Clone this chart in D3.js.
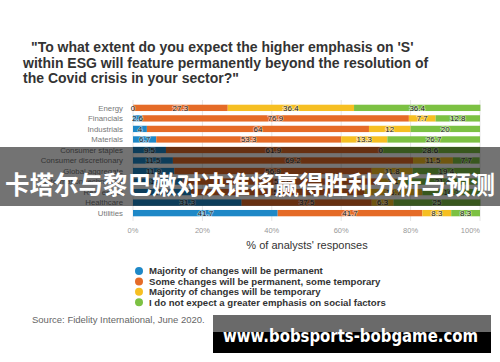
<!DOCTYPE html>
<html>
<head>
<meta charset="utf-8">
<script src="https://cdn.jsdelivr.net/npm/d3@7"></script>
<style>
  body { margin: 0; background: #fff; }
  svg { display: block; font-family: "Liberation Sans", Arial, sans-serif; }
</style>
</head>
<body>
<svg id="chart" width="500" height="362"></svg>
<script>
// sectors, top to bottom
const sectors = ["Energy", "Financials", "Industrials", "Materials", "Consumer staples",
  "Consumer discretionary", "Global aggregate", "Information technology", "Real estate",
  "Healthcare", "Utilities"];

// % of analysts per answer
const permanent = [0, 2.6, 4, 6.7, 9.5, 11.5, 11.9, 14.3, 16.7, 31.3, 41.7];
const someChanges = [27.3, 76.9, 64, 53.3, 61.9, 69.2, 56.9, 57.1, 50, 37.5, 41.7];
const temporary = [36.4, 7.7, 12, 13.3, 0, 11.5, 11.8, 7.1, 16.7, 6.3, 8.3];
const noEmphasis = [36.4, 12.8, 20, 26.7, 28.6, 7.7, 19.4, 21.4, 16.7, 25, 8.3];

const answers = ["Majority of changes will be permanent",
  "Some changes will be permanent, some temporary",
  "Majority of changes will be temporary",
  "I do not expect a greater emphasis on social factors"];
const colors = ["#1e88c7", "#e56b27", "#f6bf22", "#7cc143"];
const ticks = [0, 20, 40, 60, 80, 100];

const svg = d3.select("#chart");

// title
const title = ["\"To what extent do you expect the higher emphasis on 'S'",
  "within ESG will feature permanently beyond the resolution of",
  "the Covid crisis in your sector?\""];
svg.append("g").selectAll("text").data(title).join("text")
  .attr("x", (d, i) => i == 0 ? 31 : 23)
  .attr("y", (d, i) => 52 + i * 15.5)
  .attr("font-size", 14).attr("font-weight", "bold").attr("fill", "#333")
  .text(d => d);

const x = d3.scaleLinear().domain([0, 100]).range([133, 480]);
const y = d3.scaleBand().domain(sectors).range([100.5, 220.5]).padding(0.4);

// gridlines
svg.append("g").selectAll("line").data(ticks).join("line")
  .attr("x1", d => x(d)).attr("x2", d => x(d))
  .attr("y1", 100).attr("y2", 221)
  .attr("stroke", "#e6e6e6").attr("stroke-width", 1);

// stack the series
const rows = sectors.map((s, i) => ({ sector: s, a0: permanent[i], a1: someChanges[i], a2: temporary[i], a3: noEmphasis[i] }));
const series = d3.stack().keys(["a0", "a1", "a2", "a3"])(rows);

const groups = svg.append("g").selectAll("g").data(series).join("g")
  .attr("fill", (d, i) => colors[i]);

groups.selectAll("rect").data(d => d).join("rect")
  .attr("x", d => x(d[0]))
  .attr("y", d => y(d.data.sector))
  .attr("width", d => x(d[1]) - x(d[0]))
  .attr("height", y.bandwidth());

// value labels
const labels = svg.append("g");
series.forEach(s => {
  labels.selectAll(null).data(s).join("text")
    .attr("x", d => (x(d[0]) + x(d[1])) / 2)
    .attr("y", d => y(d.data.sector) + y.bandwidth() / 2)
    .attr("dy", "0.35em")
    .attr("text-anchor", "middle")
    .attr("font-size", 8)
    .attr("fill", "#222")
    .attr("stroke", "rgba(255,255,255,0.55)").attr("stroke-width", 1.6)
    .attr("paint-order", "stroke")
    .text(d => +(d[1] - d[0]).toFixed(1));
});

// sector names
svg.append("g").selectAll("text").data(sectors).join("text")
  .attr("x", 123)
  .attr("y", d => y(d) + y.bandwidth() / 2)
  .attr("dy", "0.35em")
  .attr("text-anchor", "end")
  .attr("font-size", 7.8).attr("fill", "#777")
  .text(d => d);

// x tick labels
svg.append("g").selectAll("text").data(ticks).join("text")
  .attr("x", d => x(d))
  .attr("y", 233)
  .attr("text-anchor", d => d == 100 ? "end" : "middle")
  .attr("font-size", 7.5).attr("fill", "#999")
  .text(d => d + "%");

svg.append("text")
  .attr("x", 307).attr("y", 249)
  .attr("text-anchor", "middle")
  .attr("font-size", 11).attr("fill", "#333")
  .text("% of analysts' responses");

// legend
const legend = svg.append("g").selectAll("g").data(answers).join("g")
  .attr("transform", (d, i) => `translate(139,${271 + i * 10.4})`);
legend.append("circle").attr("r", 4).attr("fill", (d, i) => colors[i]);
legend.append("text")
  .attr("x", 10).attr("dy", "0.35em")
  .attr("font-size", 9.6).attr("font-weight", "bold").attr("fill", "#333")
  .text(d => d);

svg.append("text")
  .attr("x", 32).attr("y", 323)
  .attr("font-size", 9.5).attr("fill", "#666")
  .text("Source: Fidelity International, June 2020.");

// overlay banners
svg.append("rect")
  .attr("x", 0).attr("y", 147).attr("width", 500).attr("height", 59)
  .attr("fill", "rgba(0,0,0,0.55)");
svg.append("text")
  .attr("x", 250).attr("y", 194)
  .attr("text-anchor", "middle")
  .attr("font-family", "'Noto Sans CJK SC', sans-serif")
  .attr("font-size", 24.5).attr("font-weight", "bold").attr("fill", "#fff")
  .text("卡塔尔与黎巴嫩对决谁将赢得胜利分析与预测");

svg.append("rect")
  .attr("x", 213).attr("y", 315).attr("width", 278).attr("height", 17)
  .attr("fill", "#6a6a6a");
svg.append("rect")
  .attr("x", 213).attr("y", 332).attr("width", 278).attr("height", 21)
  .attr("fill", "#000");
svg.append("text")
  .attr("x", 223).attr("y", 342)
  .attr("font-family", "'DejaVu Sans', sans-serif")
  .attr("font-size", 17).attr("font-weight", "bold").attr("fill", "#fff")
  .attr("textLength", 255).attr("lengthAdjust", "spacingAndGlyphs")
  .text("www.bobsports-bobgame.com");
</script>
</body>
</html>
